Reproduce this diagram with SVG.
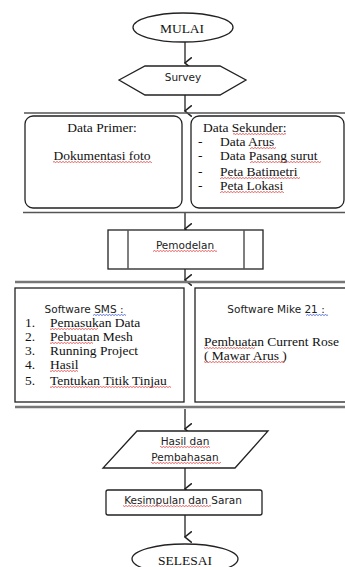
<svg xmlns="http://www.w3.org/2000/svg" width="345" height="567" viewBox="0 0 345 567">
<style>
.sh{fill:#fff;stroke:#222;stroke-width:1.3}
.serif{font-family:"Liberation Serif","Times New Roman",serif;font-size:13.5px;fill:#111}
.sans{font-family:"DejaVu Sans",Verdana,sans-serif;font-size:10.5px;fill:#222}
.mid{text-anchor:middle}
.con{stroke:#222;stroke-width:1.3;fill:none}
.bar{stroke:#555;stroke-width:1.6}
.bar2{stroke:#777;stroke-width:2.6}
.sq{fill:url(#wave)}
.sqb{fill:url(#waveb)}
</style>
<defs>
<marker id="ah" markerUnits="userSpaceOnUse" markerWidth="12" markerHeight="8" refX="5" refY="6" orient="auto-start-reverse" viewBox="0 0 10 7">
<path d="M0,0 L5,6 L10,0" fill="none" stroke="#222" stroke-width="1.3"/>
</marker>
<pattern id="wave" width="3" height="2" patternUnits="userSpaceOnUse">
<path d="M0,1.5 L1.5,0.5 L3,1.5" fill="none" stroke="#e02020" stroke-width="0.7"/>
</pattern>
<pattern id="waveb" width="3" height="2" patternUnits="userSpaceOnUse">
<path d="M0,1.5 L1.5,0.5 L3,1.5" fill="none" stroke="#2040d0" stroke-width="0.7"/>
</pattern>
</defs>

<g id="connectors">
<line class="con" x1="185" y1="42" x2="185" y2="63" marker-end="url(#ah)"/>
<line class="con" x1="185" y1="95" x2="185" y2="111" marker-end="url(#ah)"/>
<line class="con" x1="185" y1="213" x2="185" y2="229" marker-end="url(#ah)"/>
<line class="con" x1="185" y1="269" x2="185" y2="280" marker-end="url(#ah)"/>
<line class="con" x1="185" y1="409" x2="185" y2="429" marker-end="url(#ah)"/>
<line class="con" x1="185" y1="468" x2="185" y2="489" marker-end="url(#ah)"/>
<line class="con" x1="185" y1="515" x2="185" y2="537" marker-end="url(#ah)"/>
</g>

<g id="mulai">
<ellipse class="sh" cx="183" cy="27.5" rx="50" ry="14.5"/>
<text class="serif mid" x="182" y="33">MULAI</text>
</g>

<g id="survey">
<polygon class="sh" points="119,80 145,66 220,66 246,80 220,95 145,95"/>
<text class="sans mid" x="183" y="81">Survey</text>
</g>

<g id="data-group">
<line class="bar" x1="24" y1="113" x2="345" y2="113"/>
<line class="bar" x1="23" y1="212.5" x2="345" y2="212.5"/>
</g>

<g id="data-primer">
<rect class="sh" x="25" y="116" width="157" height="92" rx="8"/>
<text class="serif mid" x="102" y="132">Data Primer:</text>
<text class="serif mid" x="102" y="160">Dokumentasi foto</text>
<rect class="sq" x="53" y="161" width="99" height="2"/>
</g>

<g id="data-sekunder">
<rect class="sh" x="191" y="116" width="153" height="92" rx="8"/>
<text class="serif" x="203" y="132">Data Sekunder:</text>
<rect class="sq" x="233" y="133" width="53" height="2"/>
<text class="serif" x="198" y="146">-</text>
<text class="serif" x="220" y="146">Data Arus</text>
<rect class="sq" x="250" y="147" width="26" height="2"/>
<text class="serif" x="198" y="160">-</text>
<text class="serif" x="220" y="160">Data Pasang surut</text>
<rect class="sq" x="250" y="161" width="71" height="2"/>
<text class="serif" x="198" y="176">-</text>
<text class="serif" x="220" y="176">Peta Batimetri</text>
<rect class="sq" x="220" y="177" width="80" height="2"/>
<text class="serif" x="198" y="190">-</text>
<text class="serif" x="220" y="190">Peta Lokasi</text>
<rect class="sq" x="220" y="191" width="64" height="2"/>
</g>

<g id="pemodelan">
<rect class="sh" x="108" y="230" width="155" height="39"/>
<line x1="128" y1="230" x2="128" y2="269" stroke="#555" stroke-width="1.5"/>
<line x1="244" y1="230" x2="244" y2="269" stroke="#555" stroke-width="1.5"/>
<text class="sans mid" x="185" y="249">Pemodelan</text>
<rect class="sq" x="153" y="250" width="64" height="2"/>
</g>

<g id="software-group">
<line class="bar2" x1="15" y1="282" x2="345" y2="282"/>
<line class="bar2" x1="15" y1="407" x2="345" y2="407"/>
</g>

<g id="software-sms">
<rect class="sh" x="15" y="288" width="169" height="114"/>
<text class="sans mid" x="84" y="313">Software SMS :</text>
<rect class="sqb" x="93" y="314" width="33" height="2"/>
<text class="serif" x="25" y="327">1.</text>
<text class="serif" x="50" y="327">Pemasukan Data</text>
<rect class="sq" x="50" y="328" width="48" height="2"/>
<text class="serif" x="25" y="341">2.</text>
<text class="serif" x="50" y="341">Pebuatan Mesh</text>
<rect class="sq" x="50" y="342" width="43" height="2"/>
<text class="serif" x="25" y="355">3.</text>
<text class="serif" x="50" y="355">Running Project</text>
<text class="serif" x="25" y="369">4.</text>
<text class="serif" x="50" y="369">Hasil</text>
<rect class="sq" x="50" y="370" width="28" height="2"/>
<text class="serif" x="25" y="385">5.</text>
<text class="serif" x="50" y="385">Tentukan Titik Tinjau</text>
<rect class="sq" x="50" y="386" width="121" height="2"/>
</g>

<g id="software-mike">
<rect class="sh" x="195" y="288" width="155" height="114"/>
<text class="sans mid" x="276" y="313">Software Mike 21 :</text>
<rect class="sqb" x="306" y="314" width="22" height="2"/>
<text class="serif" x="204" y="346">Pembuatan Current Rose</text>
<rect class="sq" x="204" y="347" width="51" height="2"/>
<text class="serif" x="204" y="360">( Mawar Arus )</text>
<rect class="sq" x="204" y="361" width="81" height="2"/>
</g>

<g id="hasil">
<polygon class="sh" points="137,431 268,431 235,468 103,468"/>
<text class="sans mid" x="185" y="445">Hasil dan</text>
<rect class="sq" x="160" y="446" width="50" height="2"/>
<text class="sans mid" x="185" y="461">Pembahasan</text>
<rect class="sq" x="151" y="462" width="70" height="2"/>
</g>

<g id="kesimpulan">
<rect class="sh" x="106" y="490" width="156" height="25" rx="2"/>
<text class="sans mid" x="183" y="504">Kesimpulan dan Saran</text>
<rect class="sq" x="123" y="505" width="88" height="2"/>
</g>

<g id="selesai">
<ellipse class="sh" cx="185" cy="559" rx="53" ry="15"/>
<text class="serif mid" x="185" y="565">SELESAI</text>
</g>
</svg>
